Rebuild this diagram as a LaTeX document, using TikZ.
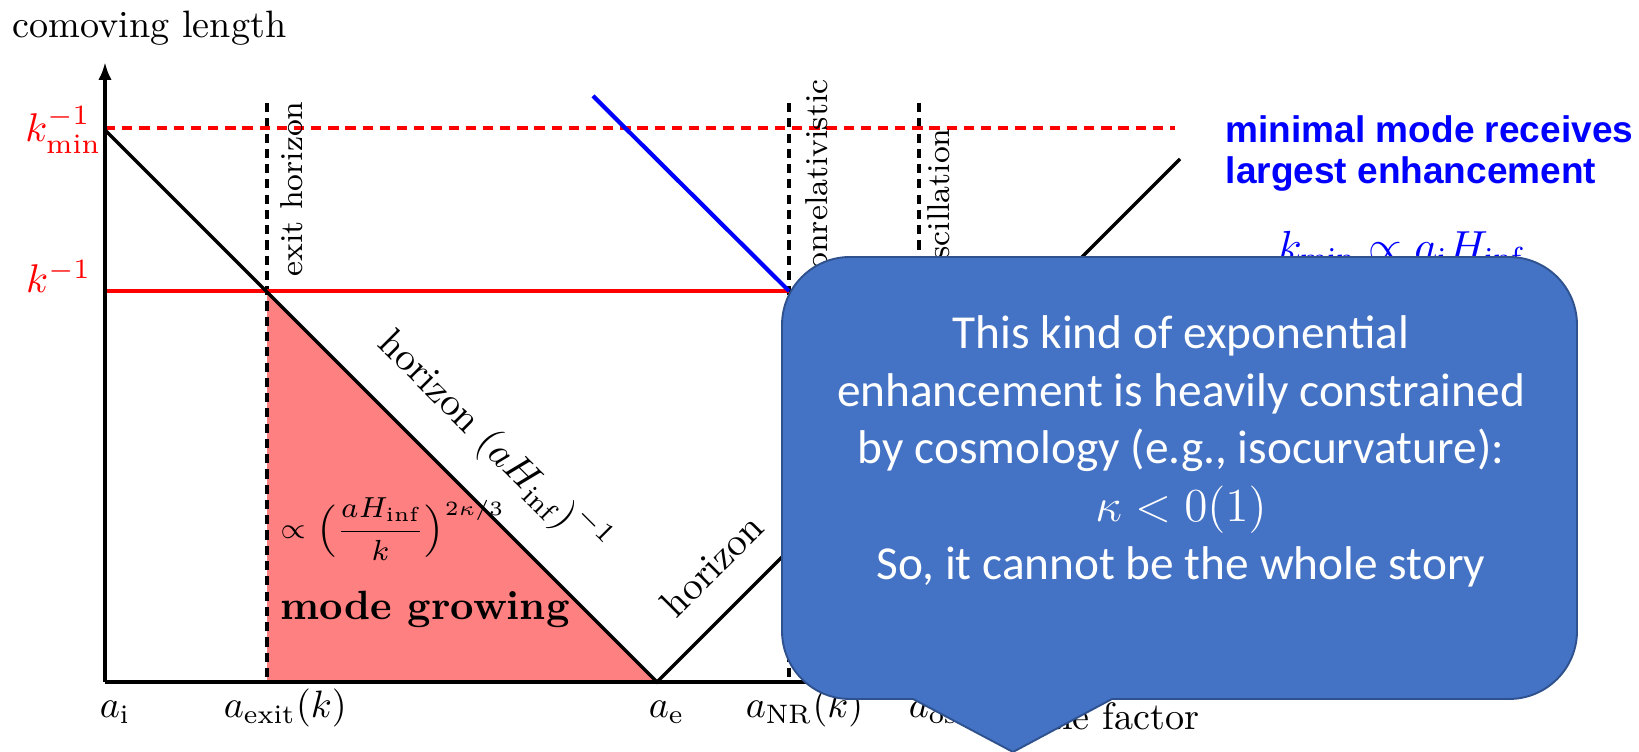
\RequirePackage{fix-cm}
\documentclass[tikz,border=0pt]{standalone}
\usepackage{amsmath}
\usepackage{fontspec}
\newfontfamily\calloutfont{Carlito}
\newfontfamily\notefont{Liberation Sans}
\usetikzlibrary{arrows.meta}
\definecolor{calloutblue}{HTML}{4472C4}
\definecolor{calloutedge}{HTML}{2F528F}

\begin{document}
\begin{tikzpicture}[
  x=0.262pt,
  y=0.262pt,
  >=Latex,
  axis/.style={draw=black,line width=1.05pt,-{Latex[length=4.7pt,width=3.5pt]}},
  horizon/.style={draw=black,line width=0.9pt},
  marker/.style={draw=black,line width=1.15pt,dash pattern=on 2.4pt off 1.6pt},
  kline/.style={draw=red,line width=1.05pt},
  kminline/.style={kline,line width=1.1pt,dash pattern=on 2.7pt off 1.8pt},
  modeline/.style={draw=blue,line width=1.1pt},
  growth/.style={fill=red!50},
  vlabel/.style={rotate=90,anchor=north west,inner sep=0pt,font=\fontsize{8.3}{10}\selectfont},
  hlabel/.style={inner sep=0pt,font=\fontsize{10.3}{12}\selectfont},
  klabel/.style={text=red,inner sep=0pt,font=\fontsize{10.5}{12}\selectfont},
  tick/.style={anchor=base west,inner sep=0pt,font=\fontsize{10}{12}\selectfont},
  callout/.style={fill=calloutblue,draw=calloutedge,line width=0.5pt}
]
\useasboundingbox (0,0) rectangle (1639,752);

% ---------------------------------------------------------------- key points
\coordinate (O)    at (105,70);
\coordinate (exit) at (267,461);
\coordinate (ae)   at (657,70);
\coordinate (nr)   at (789,461);

% ---------------------------------------------------------------- growth region
\fill[growth] (exit) -- (exit |- O) -- (ae) -- cycle;

% ---------------------------------------------------------------- scale-factor markers
\draw[marker] (267,649) -- (267,70);
\draw[marker] (789,649) -- (789,70);
\draw[marker] (919,649) -- (919,70);

% ---------------------------------------------------------------- wavelengths and horizon
\draw[kminline] (105,624) -- (1175,624);
\draw[kline] (105,461) -- (nr);
\draw[horizon] (105,622) -- (ae) -- (1180,593);
\draw[modeline] (593,656) -- (nr);

% axes
\draw[axis] (O) -- (105,690);
\draw[axis] (O) -- (1180,70);

% ---------------------------------------------------------------- labels
\node[anchor=base west,inner sep=0pt,font=\fontsize{10}{12}\selectfont] (ylabel) at (12,714) {comoving length};
\node[klabel,anchor=east] (kminlab) at (102,622) {$k_{\min}^{-1}$};
\node[klabel,anchor=base east] (klab) at (92,459) {$k^{-1}$};

\node[tick] (ai)    at (99,34)  {$a_{\mathrm{i}}$};
\node[tick] (aexit) at (223,34) {$a_{\mathrm{exit}}(k)$};
\node[tick] (aelab) at (648,34) {$a_{\mathrm{e}}$};
\node[tick] (anr)   at (745,34) {$a_{\mathrm{NR}}(k)$};
\node[tick] (aosc)  at (908,34) {$a_{\mathrm{osc}}$};
\node[anchor=base east,inner sep=0pt,font=\fontsize{10}{12}\selectfont] (xlabel) at (1200,22) {scale factor};

\node[vlabel] (exitlab) at (280,475) {exit horizon};
\node[vlabel] (nrlab)   at (805,463) {nonrelativistic};
\node[vlabel] (osclab)  at (927,475) {oscillation};

\node[hlabel,rotate=-45] (hinf) at (494,309) {horizon $\left(aH_{\mathrm{inf}}\right)^{-1}$};
\node[hlabel,rotate=45]  (hrad) at (712,187) {horizon};

\node[anchor=west,inner sep=0pt,font=\fontsize{7.6}{9}\selectfont] (rate) at (280,223)
  {$\propto\Big(\dfrac{aH_{\mathrm{inf}}}{k}\Big)^{2\kappa/3}$};
\node[anchor=base west,inner sep=0pt,font=\fontsize{10.7}{13}\selectfont\bfseries] (grow) at (280,132) {mode growing};

% ---------------------------------------------------------------- right-hand note
\node[anchor=north west,inner sep=0pt,align=left,text=blue,font=\notefont\bfseries\fontsize{9.7}{10.7}\selectfont] (note) at (1225,637)
  {minimal mode receives\\largest enhancement};
\node[anchor=base west,inner sep=0pt,text=blue,font=\fontsize{11.4}{13}\selectfont] (kminrel) at (1277,490)
  {$k_{\min}\propto a_{\mathrm{i}}H_{\mathrm{inf}}$};

% ---------------------------------------------------------------- callout
\draw[callout] (913,53) -- (1013,0) -- (1112,53) -- (1509,53)
  arc[start angle=-90,end angle=0,radius=68] -- (1577,427)
  arc[start angle=0,end angle=90,radius=68] -- (850,495)
  arc[start angle=90,end angle=180,radius=68] -- (782,121)
  arc[start angle=180,end angle=270,radius=68] -- cycle;
\node[anchor=north,align=center,inner sep=0pt,text=white,font=\calloutfont\fontsize{12.4}{15.1}\selectfont] (remark) at (1181,437)
  {This kind of exponential\\enhancement is heavily constrained\\by cosmology (e.g., isocurvature):\\$\kappa<0(1)$\\So, it cannot be the whole story};

\end{tikzpicture}
\end{document}
